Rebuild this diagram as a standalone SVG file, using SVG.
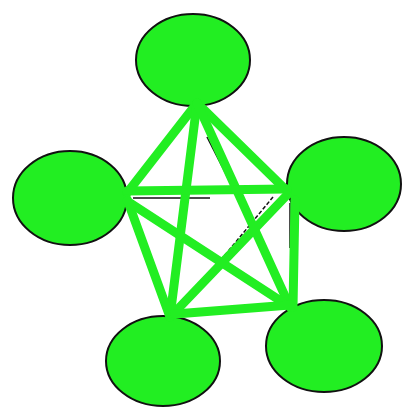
<svg xmlns="http://www.w3.org/2000/svg" width="405" height="408" viewBox="0 0 405 408">
<style>
.node{fill:#22ee22;stroke:#111;stroke-width:2}
.edge{stroke:#22ee22;stroke-width:9;stroke-linecap:round;fill:none}
.thin{stroke:#111;stroke-width:1.5;fill:none}
</style>
<rect width="405" height="408" fill="#fff"/>
<g id="node-top"><ellipse class="node" cx="193" cy="60" rx="57" ry="46"/></g>
<g id="node-left"><ellipse class="node" cx="70" cy="198" rx="57" ry="47"/></g>
<g id="node-right"><ellipse class="node" cx="344" cy="184" rx="57" ry="47"/></g>
<g id="node-bottom-left"><ellipse class="node" cx="163" cy="361" rx="57" ry="45"/></g>
<g id="node-bottom-right"><ellipse class="node" cx="324" cy="346" rx="58" ry="46"/></g>
<g id="connectors">
<path class="thin" d="M207,137 L230,182"/>
<path class="thin" d="M133,198 L210,198"/>
<path class="thin" d="M273,197 L177,313" stroke-dasharray="4 2"/>
<path class="thin" d="M290,203 L290,248"/>
<line class="edge" x1="197" y1="103" x2="127" y2="193"/>
<line class="edge" x1="197" y1="103" x2="287" y2="191"/>
<line class="edge" x1="197" y1="103" x2="170" y2="317"/>
<line class="edge" x1="197" y1="103" x2="290" y2="307"/>
<line class="edge" x1="127" y1="191" x2="287" y2="189"/>
<line class="edge" x1="127" y1="199" x2="170" y2="317"/>
<line class="edge" x1="127" y1="201" x2="290" y2="307"/>
<line class="edge" x1="287" y1="195" x2="175" y2="312"/>
<line class="edge" x1="295" y1="200" x2="293" y2="307"/>
<line class="edge" x1="175" y1="314" x2="290" y2="305"/>
</g>
</svg>
